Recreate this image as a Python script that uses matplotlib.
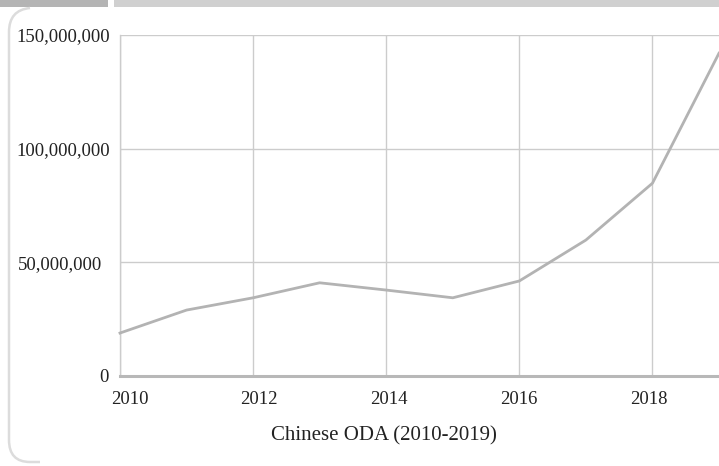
import matplotlib
matplotlib.use("Agg")
import matplotlib.pyplot as plt
from matplotlib.patches import Rectangle, PathPatch
from matplotlib.path import Path
from matplotlib.ticker import FuncFormatter
from matplotlib.transforms import ScaledTranslation

# Chinese ODA by year
years = [2010, 2011, 2012, 2013, 2014, 2015, 2016, 2017, 2018, 2019]
oda = [18.9e6, 29.0e6, 34.4e6, 41.0e6, 37.8e6, 34.4e6, 41.8e6, 59.8e6, 84.8e6, 142.0e6]

x_ticks = [2010, 2012, 2014, 2016, 2018]
y_ticks = [0, 50e6, 100e6, 150e6]
x_title = "Chinese ODA (2010-2019)"

W, H = 719, 466
DPI = 100
plt.rcParams["font.family"] = ["Liberation Serif", "DejaVu Serif"]

fig = plt.figure(figsize=(W / DPI, H / DPI), dpi=DPI)
fig.patch.set_facecolor("white")

# header bars
fig.patches.append(Rectangle((0, (H - 7) / H), 108 / W, 7 / H, transform=fig.transFigure,
                             facecolor="#b4b4b4", edgecolor="none"))
fig.patches.append(Rectangle((114 / W, (H - 7) / H), (W - 114) / W, 7 / H, transform=fig.transFigure,
                             facecolor="#d0d0d0", edgecolor="none"))


def px(x, y):
    return (x / W, (H - y) / H)


# rounded card border on the left side
verts = [px(30, 8), px(9, 10), px(9, 32),
         px(9, 440),
         px(9, 462), px(30, 462),
         px(40, 462)]
codes = [Path.MOVETO, Path.CURVE3, Path.CURVE3,
         Path.LINETO,
         Path.CURVE3, Path.CURVE3,
         Path.LINETO]
fig.patches.append(PathPatch(Path(verts, codes), transform=fig.transFigure,
                             facecolor="none", edgecolor="#dcdcdc", linewidth=1.8))

ax = fig.add_axes([120 / W, (H - 376) / H, (W - 120) / W, 341 / H])
ax.set_facecolor("none")

ax.plot(years, oda, color="#b3b3b3", linewidth=2.0, solid_joinstyle="round", zorder=3,
        clip_on=False)

ax.set_xlim(2010, 2019)
ax.set_ylim(0, 150e6)
ax.set_xticks(x_ticks)
ax.set_yticks(y_ticks)
ax.yaxis.set_major_formatter(FuncFormatter(lambda v, p: f"{int(v):,}"))

ax.grid(True, color="#cccccc", linewidth=1.0)
ax.set_axisbelow(True)

for s in ["top", "right"]:
    ax.spines[s].set_visible(False)
ax.spines["left"].set_color("#cccccc")
ax.spines["left"].set_linewidth(1.0)
ax.spines["bottom"].set_color("#b8b8b8")
ax.spines["bottom"].set_linewidth(2.2)

ax.tick_params(axis="both", length=0, labelcolor="#222222")
ax.tick_params(axis="y", pad=7, labelsize=13.5)
ax.tick_params(axis="x", pad=11, labelsize=13.5)

# small horizontal nudges of the tick labels (pixels)
x_nudge = [10, 6, 2.5, -1, -3.5]
for lbl, dx in zip(ax.get_xticklabels(), x_nudge):
    lbl.set_transform(lbl.get_transform() + ScaledTranslation(dx / DPI, 0, fig.dpi_scale_trans))
y_nudge = [-2, -8, 0, 0]
for lbl, dx in zip(ax.get_yticklabels(), y_nudge):
    lbl.set_transform(lbl.get_transform() + ScaledTranslation(dx / DPI, 0, fig.dpi_scale_trans))

ax.set_xlabel(x_title, fontsize=15, color="#222222", labelpad=12)
ax.xaxis.set_label_coords((384 - 120) / (W - 120), -(436 - 376) / 341)
ax.xaxis.label.set_verticalalignment("center")

fig.savefig("out.png", dpi=DPI, facecolor="white")
